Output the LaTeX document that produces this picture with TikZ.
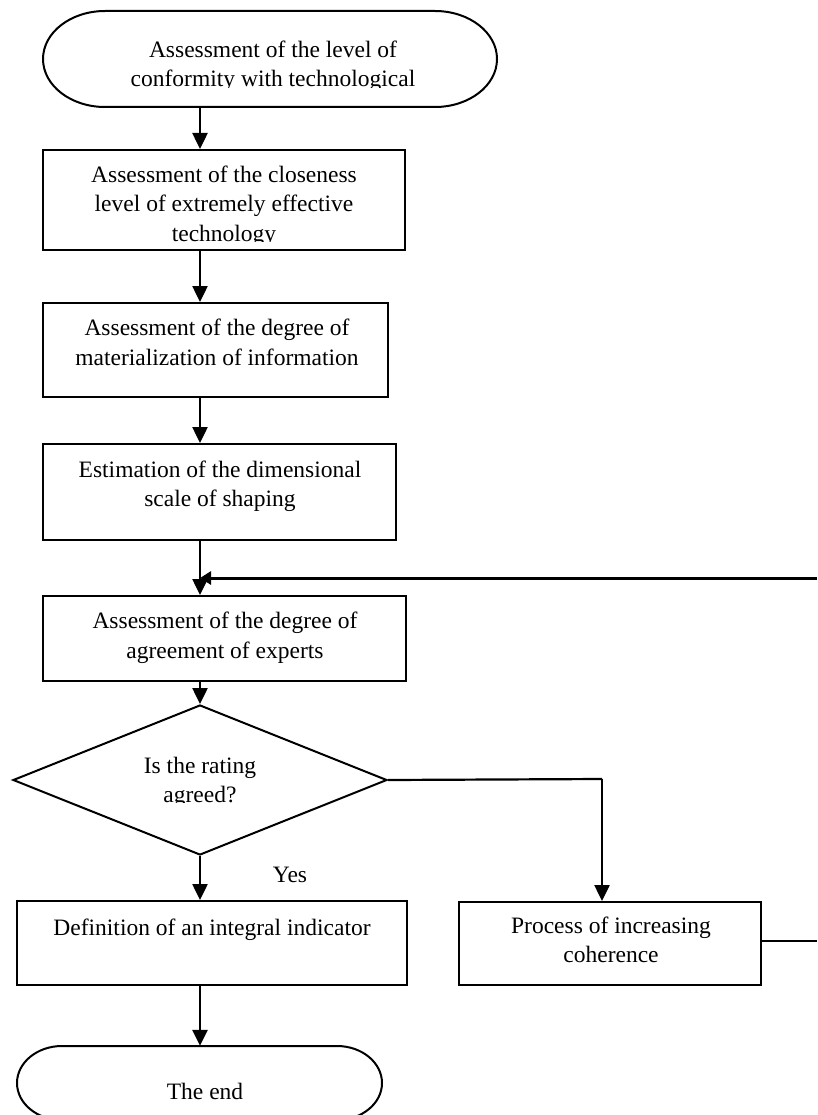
\documentclass[tikz,border=0pt]{standalone}
\usepackage{fontspec}
\setmainfont{Liberation Serif}
\usetikzlibrary{arrows.meta,shapes.geometric}
\newcommand{\dfs}{\fontsize{23.5}{29}\selectfont}
\tikzset{
  boxnode/.style={draw, line width=2pt, rectangle, inner sep=0pt},
  hold/.style={inner sep=0pt, rectangle},
  txt/.style={anchor=base, inner sep=0pt, font=\dfs},
  conn/.style={line width=2.5pt, -{Triangle[width=15pt,length=16pt]}},
  plain/.style={line width=2.2pt},
  loopline/.style={line width=3pt, -{Triangle[width=13pt,length=11pt]}},
  termline/.style={line width=2pt}
}
\begin{document}
\begin{tikzpicture}[x=1pt,y=1pt]
\clip (0,0) rectangle (817,-1115);
\fill[white] (0,0) rectangle (817,-1115);
\coordinate (cx) at (200,0);

% start terminator
\node[hold, minimum width=454pt, minimum height=96pt] (t1) at (270,-59) {};
\draw[termline] (105,-11) -- (435,-11) arc[start angle=90, end angle=-90, x radius=62, y radius=48]
  -- (105,-107) arc[start angle=270, end angle=90, x radius=62, y radius=48] -- cycle;
\begin{scope}
\clip (43,-11) rectangle (497,-87.6);
\node[txt] (t1a) at (273,-58) {Assessment of the level of};
\node[txt] (t1b) at (273,-87) {conformity with technological};
\end{scope}

% boxes
\node[boxnode, minimum width=362pt, minimum height=100pt] (b1) at (224,-200) {};
\node[txt] (b1a) at (224,-183) {Assessment of the closeness};
\node[txt] (b1b) at (224,-212) {level of extremely effective};
\begin{scope}
\clip (43,-150) rectangle (405,-241.6);
\node[txt] (b1c) at (224,-241) {technology};
\end{scope}

\node[boxnode, minimum width=345pt, minimum height=94pt] (b2) at (215.5,-350) {};
\node[txt] (b2a) at (217,-335) {Assessment of the degree of};
\node[txt] (b2b) at (217,-365) {materialization of information};

\node[boxnode, minimum width=353pt, minimum height=96pt] (b3) at (219.5,-492) {};
\node[txt] (b3a) at (220,-477) {Estimation of the dimensional};
\node[txt] (b3b) at (220,-506) {scale of shaping};

\node[boxnode, minimum width=363pt, minimum height=85pt] (b4) at (224.5,-638.5) {};
\node[txt] (b4a) at (225,-628) {Assessment of the degree of};
\node[txt] (b4b) at (225,-658) {agreement of experts};

% decision
\node[draw, line width=2pt, diamond, aspect=2.49, minimum width=374pt, minimum height=150pt, inner sep=0pt] (d) at (200,-780) {};
\node[txt] (da) at (200,-773) {Is the rating};
\begin{scope}
\clip (13,-705) rectangle (387,-802.6);
\node[txt] (db) at (200,-802) {agreed?};
\end{scope}

\node[boxnode, minimum width=390pt, minimum height=84pt] (b5) at (212,-943) {};
\node[txt] (b5a) at (212,-935) {Definition of an integral indicator};

\node[boxnode, minimum width=302pt, minimum height=83pt] (b6) at (610,-943.5) {};
\node[txt] (b6a) at (611,-933) {Process of increasing};
\node[txt] (b6b) at (611,-962) {coherence};

\node[txt] (yes) at (290,-882) {Yes};

% end terminator
\node[hold, minimum width=365pt, minimum height=74pt] (t2) at (199.5,-1083) {};
\draw[termline] (62,-1046) -- (337,-1046) arc[start angle=90, end angle=-90, x radius=45, y radius=37]
  -- (62,-1120) arc[start angle=270, end angle=90, x radius=45, y radius=37] -- cycle;
\node[txt] (t2a) at (205,-1099) {The end};

% connectors
\coordinate (r1) at (817,-941);
\coordinate (r2) at (817,-578);
\coordinate (m) at (200,-578);
\coordinate (rt) at (602,-779);

\draw[conn] (t1.south -| cx) -- (b1.north -| cx);
\draw[conn] (b1.south -| cx) -- (b2.north -| cx);
\draw[conn] (b2.south -| cx) -- (b3.north -| cx);
\draw[conn] (b3.south -| cx) -- (b4.north -| cx);
\draw[loopline] (r2) -- (m);
\draw[conn] (b4.south -| cx) -- (d.north);
\draw[plain] (d.east) -- (rt);
\draw[conn] (rt) -- (rt |- b6.north);
\draw[conn] (d.south) -- (b5.north -| cx);
\draw[conn] (b5.south -| cx) -- (t2.north -| cx);
\draw[plain] (b6.east |- r1) -- (r1);
\end{tikzpicture}
\end{document}
